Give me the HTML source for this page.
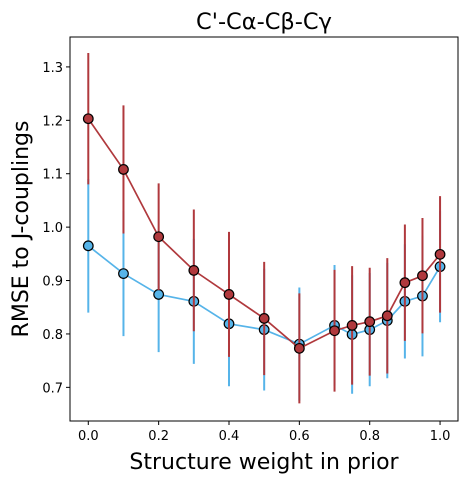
<!DOCTYPE html>
<html><head><meta charset="utf-8"><style>
body{margin:0;background:#fff}
svg{display:block;font-family:"Liberation Sans","DejaVu Sans",sans-serif}
</style></head><body>
<svg id="chart" width="467" height="483" viewBox="0 0 467 483" xmlns="http://www.w3.org/2000/svg">
<text x="264" y="29" text-anchor="middle" font-size="22.5" font-family="DejaVu Sans, sans-serif">C'-Cα-Cβ-Cγ</text>
<g id="plot"></g>
<text x="264" y="469" text-anchor="middle" font-size="22" font-family="DejaVu Sans, sans-serif">Structure weight in prior</text>
<text transform="translate(28,229) rotate(-90)" text-anchor="middle" font-size="22" font-family="DejaVu Sans, sans-serif">RMSE to J-couplings</text>
</svg>
<script>
const xs=[0,0.1,0.2,0.3,0.4,0.5,0.6,0.7,0.75,0.8,0.85,0.9,0.95,1.0];
const blueVals=[0.965,0.913,0.874,0.861,0.819,0.808,0.781,0.816,0.799,0.808,0.825,0.861,0.871,0.926];
const blueErr=[0.125,0.117,0.108,0.117,0.117,0.114,0.106,0.113,0.111,0.106,0.108,0.107,0.113,0.104];
const redVals=[1.203,1.108,0.982,0.919,0.874,0.829,0.773,0.806,0.816,0.823,0.834,0.896,0.909,0.949];
const redErr=[0.123,0.120,0.100,0.114,0.117,0.106,0.103,0.114,0.111,0.101,0.108,0.109,0.108,0.109];
const xTicks=[0,0.2,0.4,0.6,0.8,1.0];
const yTicks=[0.7,0.8,0.9,1.0,1.1,1.2,1.3];
const L=70,R=458,T=37,B=421,XMIN=-0.052,XMAX=1.051,YMIN=0.637,YMAX=1.356;
const X=v=>L+(v-XMIN)/(XMAX-XMIN)*(R-L);
const Y=v=>B-(v-YMIN)/(YMAX-YMIN)*(B-T);
const g=document.getElementById('plot');
const NS='http://www.w3.org/2000/svg';
function mk(t,a){const e=document.createElementNS(NS,t);for(const k in a)e.setAttribute(k,a[k]);g.appendChild(e);return e;}
function series(vals,err,color,name){
  vals.forEach((v,i)=>{const e=mk('line',{x1:X(xs[i]),x2:X(xs[i]),y1:Y(v-err[i]),y2:Y(v+err[i]),stroke:color,'stroke-width':2});
    
    });
  const p=mk('polyline',{points:vals.map((v,i)=>X(xs[i])+','+Y(v)).join(' '),fill:'none',stroke:color,'stroke-width':1.7});
  
  
  vals.forEach((v,i)=>{const c=mk('circle',{cx:X(xs[i]),cy:Y(v),r:4.8,fill:color,stroke:'#000','stroke-width':1.2});
    
    });
}
series(blueVals,blueErr,'#56b4e9','blue-series');
series(redVals,redErr,'#b0393d','red-series');
const f=mk('rect',{x:L,y:T,width:R-L,height:B-T,fill:'none',stroke:'#000','stroke-width':1});


xTicks.forEach(v=>{const t=mk('line',{x1:X(v),x2:X(v),y1:B,y2:B+4,stroke:'#000'});
  
  
  const l=mk('text',{x:X(v),y:B+19,'text-anchor':'middle','font-size':13,'font-family':'DejaVu Sans, sans-serif'});l.textContent=v.toFixed(1);
  
  });
yTicks.forEach(v=>{const t=mk('line',{x1:L-4,x2:L,y1:Y(v),y2:Y(v),stroke:'#000'});
  
  
  const l=mk('text',{x:L-7,y:Y(v)+5,'text-anchor':'end','font-size':13,'font-family':'DejaVu Sans, sans-serif'});l.textContent=v.toFixed(1);
  
  });
</script>
</body></html>
